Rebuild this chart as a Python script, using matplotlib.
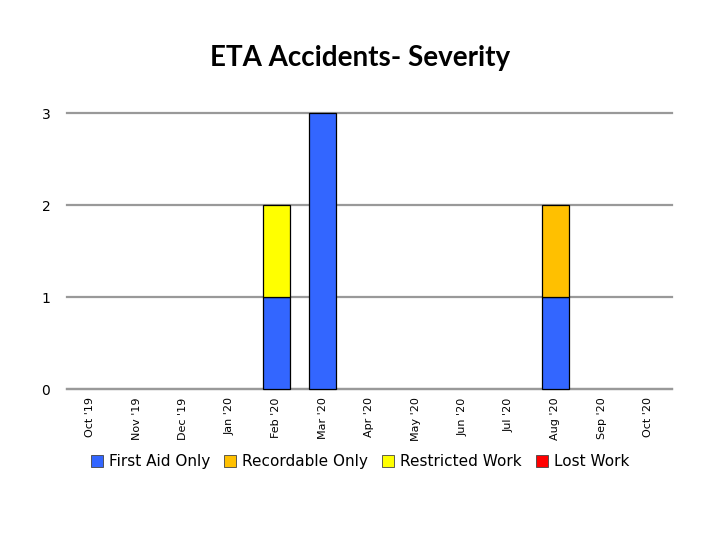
import matplotlib
matplotlib.use("Agg")
import matplotlib.pyplot as plt
import numpy as np
from matplotlib.patches import Patch

months = ["Oct '19", "Nov '19", "Dec '19", "Jan '20", "Feb '20", "Mar '20", "Apr '20",
          "May '20", "Jun '20", "Jul '20", "Aug '20", "Sep '20", "Oct '20"]
first_aid = [0, 0, 0, 0, 1, 3, 0, 0, 0, 0, 1, 0, 0]
recordable = [0, 0, 0, 0, 0, 0, 0, 0, 0, 0, 1, 0, 0]
restricted = [0, 0, 0, 0, 1, 0, 0, 0, 0, 0, 0, 0, 0]
lost_work = [0] * 13

series = [
    ("First Aid Only", first_aid, "#3366FF"),
    ("Recordable Only", recordable, "#FFC000"),
    ("Restricted Work", restricted, "#FFFF00"),
    ("Lost Work", lost_work, "#FF0000"),
]

fig = plt.figure(figsize=(7.2, 5.4), dpi=100)
ax = fig.add_axes([0.093, 0.2796, 0.840, 0.5111])

x = np.arange(len(months))
bottom = np.zeros(len(months))
for label, vals, color in series:
    vals = np.array(vals, dtype=float)
    mask = vals > 0
    ax.bar(x[mask], vals[mask], bottom=bottom[mask], width=0.58, color=color,
           edgecolor="black", linewidth=0.9, zorder=3, clip_on=False)
    bottom += vals

ax.set_xlim(-0.5, len(months) - 0.5)
ax.set_ylim(0, 3)
ax.set_yticks([0, 1, 2, 3])
ax.yaxis.grid(True, color="#999999", linewidth=1.6, zorder=0)
for gl in ax.get_ygridlines():
    gl.set_clip_on(False)
ax.set_xticks(x)
ax.set_xticklabels(months, rotation=90, fontsize=8, family="DejaVu Sans")
ax.tick_params(axis="y", length=0, labelsize=10, pad=12)
ax.tick_params(axis="x", length=0, pad=6)
for s in ["top", "right", "left"]:
    ax.spines[s].set_visible(False)
ax.spines["bottom"].set_color("#999999")
ax.spines["bottom"].set_linewidth(1.6)

fig.text(0.5, 0.893, "ETA Accidents- Severity", ha="center", va="center",
         fontsize=20, fontweight="bold", family="Lato")

handles = [Patch(facecolor=c, edgecolor="#444444", linewidth=0.6, label=l) for l, _, c in series]
fig.legend(handles=handles, loc="center", bbox_to_anchor=(0.5, 0.145), ncol=4,
           frameon=False, fontsize=11, handlelength=0.8, handleheight=0.8,
           handletextpad=0.4, columnspacing=0.9)

fig.savefig("out.png", dpi=100)
